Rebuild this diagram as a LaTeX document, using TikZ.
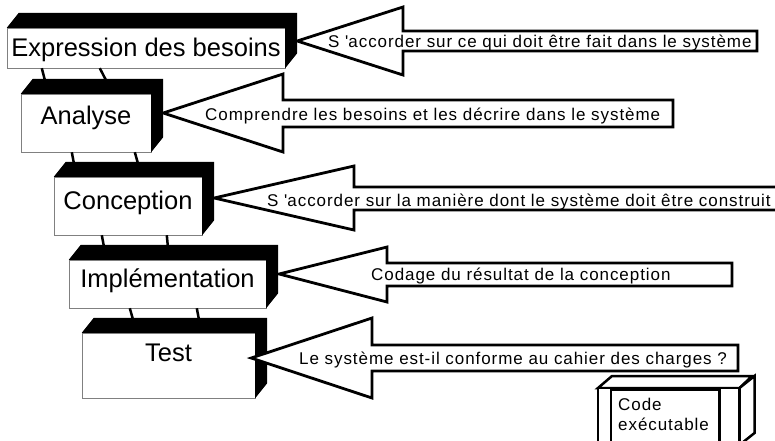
\documentclass[tikz,border=0pt]{standalone}
\usepackage{fontspec}
\setmainfont{Liberation Sans}
\usetikzlibrary{calc}

\tikzset{
  stage/.style={draw=gray, fill=white, inner sep=0pt, text height=19pt, font=\fontsize{25.5}{28}\selectfont},
  link/.style={line width=2.5pt},
  bigarrow/.style={draw, line width=2.8pt, fill=white},
  remark/.style={anchor=base west, inner sep=0pt, font=\fontsize{17}{20.4}\selectfont\addfontfeature{LetterSpace=5.5}},
  part/.style={draw, line width=2.5pt, fill=white},
}

\begin{document}
\begin{tikzpicture}[x=1pt, y=-1pt]
  \useasboundingbox (0,0) rectangle (775,440);
  \clip (0,0) rectangle (775,440);

  % the five stages
  \node[stage, minimum width=278pt, minimum height=40pt, text depth=2pt] (besoins) at (146,48) {Expression des besoins};
  \node[stage, minimum width=130pt, minimum height=58pt, text depth=16pt] (analyse) at (86,123) {Analyse};
  \node[stage, minimum width=148pt, minimum height=58pt, text depth=12pt] (conception) at (128,206) {Conception};
  \node[stage, minimum width=197pt, minimum height=48pt, text depth=13pt] (implementation) at (167.5,284) {Implémentation};
  \node[stage, minimum width=173pt, minimum height=65pt, text depth=27pt] (test) at (168.5,365.5) {Test};
  \foreach \b in {besoins,analyse,conception,implementation,test}
    \fill (\b.north west) -- ++(12,-15) -- ($(\b.north east)+(12,-15)$) -- ($(\b.south east)+(12,-15)$) -- (\b.south east) -- (\b.north east) -- cycle;

  % links between stages
  \draw[link] ([xshift=35pt]besoins.south west) -- ([xshift=24pt,yshift=14pt]analyse.north west);
  \draw[link] ([xshift=93pt]besoins.south west) -- ([xshift=85pt,yshift=14pt]analyse.north west);
  \draw[link] ([xshift=51pt]analyse.south west) -- ([xshift=20pt,yshift=14pt]conception.north west);
  \draw[link] ([xshift=114pt]analyse.south west) -- ([xshift=84pt,yshift=14pt]conception.north west);
  \draw[link] ([xshift=48pt]conception.south west) -- ([xshift=35pt,yshift=14pt]implementation.north west);
  \draw[link] ([xshift=113pt]conception.south west) -- ([xshift=99pt,yshift=14pt]implementation.north west);
  \draw[link] ([xshift=61pt]implementation.south west) -- ([xshift=51pt,yshift=14pt]test.north west);
  \draw[link] ([xshift=128pt]implementation.south west) -- ([xshift=117pt,yshift=14pt]test.north west);

  % big arrows
  \coordinate (tip1) at ([xshift=12pt,yshift=7pt]besoins.east);
  \coordinate (tip2) at ([xshift=12pt,yshift=10pt]analyse.east);
  \coordinate (tip3) at ([xshift=12pt,yshift=8pt]conception.east);
  \coordinate (tip4) at ([xshift=13pt,yshift=10pt]implementation.east);
  \coordinate (tip5) at ([xshift=-4pt,yshift=7.5pt]test.east);
  \draw[bigarrow] (tip1) -- (403,7) -- (403,31) -- (757,31) -- (757,51) -- (403,51) -- (403,75) -- cycle;
  \draw[bigarrow] (tip2) -- (283,74) -- (283,100) -- (673,100) -- (673,127) -- (283,127) -- (283,152) -- cycle;
  \draw[bigarrow] (tip3) -- (354,166) -- (354,187) -- (790,187) -- (790,210) -- (354,210) -- (354,230) -- cycle;
  \draw[bigarrow] (tip4) -- (387,247) -- (387,263) -- (732,263) -- (732,286) -- (387,286) -- (387,302) -- cycle;
  \draw[bigarrow] (tip5) -- (372,318) -- (372,345) -- (738,345) -- (738,371) -- (372,371) -- (372,398) -- cycle;
  \node[remark] (say1) at (328,47) {S \textquotesingle accorder sur ce qui doit être fait dans le système};
  \node[remark] (say2) at (205,120) {Comprendre les besoins et les décrire dans le système};
  \node[remark] (say3) at (267,206) {S \textquotesingle accorder sur la manière dont le système doit être construit};
  \node[remark] (say4) at (371,280) {Codage du résultat de la conception};
  \node[remark] (say5) at (299,364) {Le système est-il conforme au cahier des charges ?};

  % component
  \node[part, minimum width=139pt, minimum height=70pt, anchor=north west, inner sep=0pt] (exe) at (598,388) {};
  \draw[part] (exe.north west) -- ++(14,-12) -- ++(140,0) -- (exe.north east) -- cycle;
  \draw[part] (exe.north east) -- ++(15,-12) -- ++(0,57) -- ++(-15,12) -- cycle;
  \draw[part] (exe.north west) rectangle ([xshift=13pt]exe.south west);
  \draw[part] ([xshift=-20pt]exe.north east) rectangle (exe.south east);
  \node[remark, anchor=north west, align=left] (code) at (618,398) {Code\\exécutable};
\end{tikzpicture}
\end{document}
